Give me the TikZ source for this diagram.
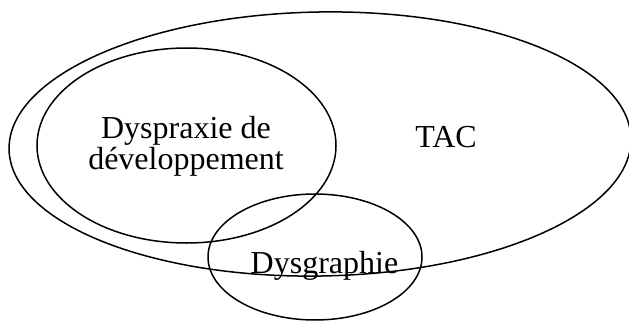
\documentclass[tikz,border=0pt]{standalone}
\usepackage{fontspec}
\setmainfont{Liberation Serif}
\usepackage{tikz}
\usetikzlibrary{positioning}

\begin{document}
\begin{tikzpicture}[
    x=1pt, y=1pt,
    set/.style={draw=black, line width=1.5pt},
    lbl/.style={font=\fontsize{32}{27}\selectfont, inner sep=0pt, align=center}
]
\useasboundingbox (0,0) rectangle (629,322);

% Sets
\draw[set, rotate around={1:(320,178)}] (320,178) ellipse (311 and 132);
\draw[set] (186.5,176.5) ellipse (149.5 and 97.5);
\draw[set] (315,65) ellipse (107 and 63);

% Labels
\node[lbl, anchor=base] (tac) at (446,175) {TAC};
\node[lbl, anchor=base] (dyspraxie) at (186,153) {Dyspraxie de\\développement};
\node[lbl, anchor=base] (dysgraphie) at (324.5,49) {Dysgraphie};

\end{tikzpicture}
\end{document}
